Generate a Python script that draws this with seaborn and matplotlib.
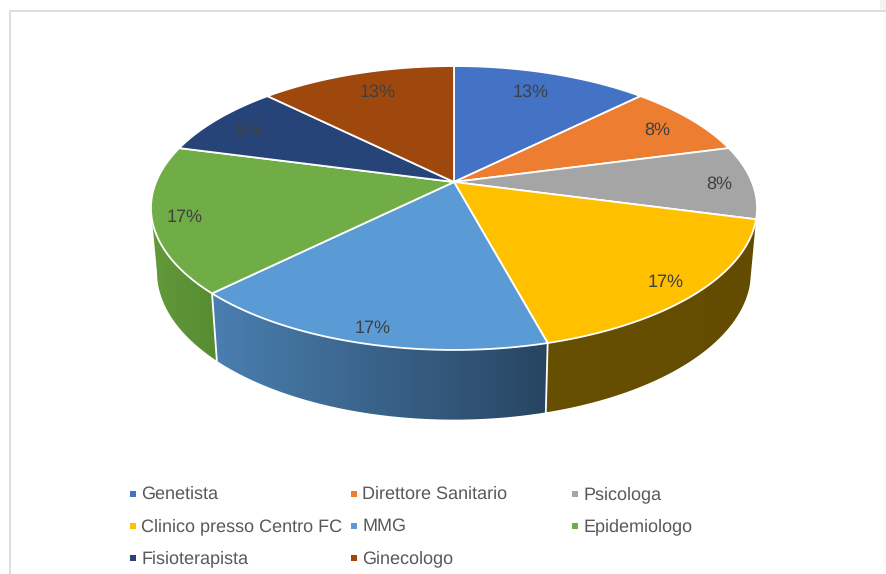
"""
3D-looking pie of respondent roles, drawn on pixel-like axes.
ax.pie gives the wedge angles, which are then projected onto a tilted disc.
"""

import numpy as np
import matplotlib
matplotlib.use("Agg")
import matplotlib.pyplot as plt
from matplotlib.colors import to_rgb
from matplotlib.patches import Polygon
import seaborn as sns

# Data
roles = ["Genetista", "Direttore Sanitario", "Psicologa",
         "Clinico presso Centro FC", "MMG", "Epidemiologo",
         "Fisioterapista", "Ginecologo"]
answers = [3, 2, 2, 4, 4, 4, 2, 3]

# Colours
top_colors = ["#4472C4", "#ED7D31", "#A5A5A5", "#FFC000",
              "#5B9BD5", "#70AD47", "#264478", "#9E480E"]
wall_left = ["#35588f", "#b05d24", "#7b7b7b", "#675000",
             "#4a7fb0", "#62993a", "#1c3359", "#763609"]
wall_right = ["#35588f", "#b05d24", "#7b7b7b", "#634c00",
              "#284562", "#578c32", "#1c3359", "#763609"]
TEXT_COLOR = "#404040"
LEGEND_COLOR = "#595959"

# Projection of the unit disc to image pixels
APEX_X, APEX_Y = 454, 182
SCALE_X, SCALE_Y, TILT = 297.9, 137.2, 0.1831
RIM_CENTER_Y = 208
DEPTH = 64
BOTTOM_SCALE_X, BOTTOM_SCALE_Y = 0.98, 1.04

# Distance of each percentage from the apex, in disc radii, plus a small nudge
label_radius = [0.80, 0.83, 0.89, 0.90, 0.91, 0.90, 0.86, 0.80]
label_dx = [-4, 4, 0, -3, 2, 1, 1, 4]
label_dy = [-1, 1, 2, 1, 3, 2, 3, -1]

# Legend layout
legend_x = [133, 354, 575]
legend_y = [494, 526, 558]


def project(x, y):
    """Map disc coordinates to image pixels."""
    w = 1 + TILT * y
    return APEX_X + SCALE_X * x / w, APEX_Y - SCALE_Y * y / w


def project_bottom(px, py):
    """Shift top rim pixels to the lower rim of the disc."""
    bx = APEX_X + (px - APEX_X) * BOTTOM_SCALE_X
    by = RIM_CENTER_Y + (py - RIM_CENTER_Y) * BOTTOM_SCALE_Y + DEPTH
    return bx, by


def rim(theta1, theta2, n=160):
    t = np.radians(np.linspace(theta1, theta2, n))
    return project(np.cos(t), np.sin(t))


def draw_wall(ax, wedge, left, right):
    """Side wall: horizontal colour ramp clipped to the wall outline."""
    px, py = rim(wedge.theta1, wedge.theta2)

    # Only the front half of the rim has a visible wall
    front = py >= RIM_CENTER_Y
    px, py = px[front], py[front]
    if len(px) < 2 or np.ptp(px) < 10:
        return

    bx, by = project_bottom(px, py)
    outline = np.column_stack([np.r_[px, bx[::-1]], np.r_[py, by[::-1]]])

    ramp = np.linspace(to_rgb(left), to_rgb(right), 256)[np.newaxis, :, :]
    x0, x1 = outline[:, 0].min(), outline[:, 0].max()
    y0, y1 = outline[:, 1].min(), outline[:, 1].max()
    image = ax.imshow(ramp, extent=(x0, x1, y1, y0), aspect="auto", zorder=1,
                      interpolation="bilinear")
    image.set_clip_path(Polygon(outline, closed=True, transform=ax.transData))


def main():
    sns.set_theme(style="white")
    plt.rcParams["font.family"] = ["Liberation Sans", "DejaVu Sans"]
    plt.rcParams["text.hinting"] = "no_hinting"
    plt.rcParams["text.hinting_factor"] = 1
    palette = sns.color_palette(top_colors)

    fig = plt.figure(figsize=(8.87, 5.74), dpi=100)
    ax = fig.add_axes([0, 0, 1, 1])

    wedges, _, autotexts = ax.pie(
        answers, startangle=90, counterclock=False, colors=palette,
        autopct=lambda p: f"{int(p + 0.5)}%",
    )

    for i, wedge in enumerate(wedges):
        wedge.set_visible(False)
        draw_wall(ax, wedge, wall_left[i], wall_right[i])

        px, py = rim(wedge.theta1, wedge.theta2)
        apex = project(0, 0)
        points = [apex] + list(zip(px, py))
        ax.add_patch(Polygon(points, closed=True, facecolor=palette[i],
                             edgecolor="white", linewidth=1.3, zorder=3))

        # White seam where two front walls meet
        bx, by = project_bottom(px[0], py[0])
        if py[0] > RIM_CENTER_Y + 20:
            ax.plot([px[0], bx], [py[0], by], color="white", lw=1.3, zorder=2)

        mid = np.radians((wedge.theta1 + wedge.theta2) / 2)
        tx, ty = project(label_radius[i] * np.cos(mid), label_radius[i] * np.sin(mid))
        autotexts[i].set(x=tx + label_dx[i], y=ty + label_dy[i], color=TEXT_COLOR,
                         fontsize=13, zorder=4, ha="center", va="center")

    # Legend, three fixed columns
    for i, role in enumerate(roles):
        lx, ly = legend_x[i % 3], legend_y[i // 3]
        ax.scatter([lx], [ly], marker="s", s=22, color=palette[i], linewidths=0, zorder=4)
        ax.text(lx + 8.4, ly + 0.5, role, color=LEGEND_COLOR, fontsize=12.9,
                va="center", ha="left")

    # Frame of the pasted chart
    ax.plot([10, 887], [11, 11], color="#dedede", lw=1.4, zorder=0)
    ax.plot([10, 10], [11, 574], color="#dedede", lw=1.4, zorder=0)
    ax.fill_between([880, 887], 0, 10, color="#f3f3f3", lw=0, zorder=0)

    ax.set(xlim=(0, 887), ylim=(574, 0), aspect="auto")
    ax.axis("off")

    plt.savefig("out.png", dpi=100)
    plt.close()


if __name__ == "__main__":
    main()
